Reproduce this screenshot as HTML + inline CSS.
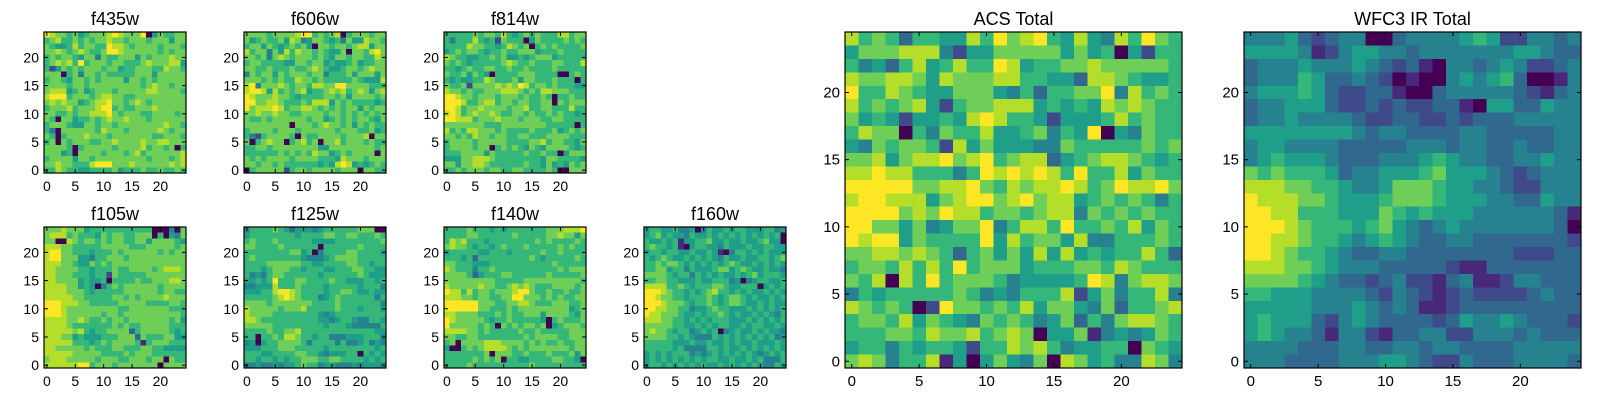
<!DOCTYPE html>
<html><head><meta charset="utf-8"><style>
body{margin:0;background:#fff;width:1600px;height:400px;overflow:hidden}
svg{display:block;font-family:"Liberation Sans",sans-serif}
text{font-weight:normal}
</style></head><body>
<svg id="fig" width="1600" height="400" viewBox="0 0 1600 400" xmlns="http://www.w3.org/2000/svg"></svg>
<script>
// Data: each string is one image row, top (y=24) to bottom (y=0); digits 0-9 = intensity level
const xTicks = [0,5,10,15,20];
const yTicks = [0,5,10,15,20];
const f435w = ["9877675677789877790576677","6786676767787767776777577","7655686776698876777767776","7787678766799877777767677","6767765774766777576777877","6787869677767766678777885","6257676777677566777668776","7770674776766666777577777","6776577676777757767677777","7777677677777777767877677","7888567567776777778877776","8999677767887766777777777","7878775678897767876777777","6777867778996766777877777","7766767788897677766777767","7607756676787787776777777","6777655776776777777778776","6407777776877767777787677","7606777877767777777667776","6707677766778777787788777","7777606777776777786776706","7775607777677767867777778","6777757767777777776777678","7787766689997778777777878","6687665566667566676676676"];
const f606w = ["7777677778996767806777677","7567667587457765647558776","6775765676750776776788577","8677475868776765570776897","7767478767776765776776687","6776666557767756556756677","7766766676678765567767877","4767757677767746667577757","7776767668776766666765558","8947778767768877997777666","8998586767856678786787578","9877787765666677675777767","9977887666768885767666656","9788898677887676767757677","7787787766777767767676767","7667677777767756767677657","7777777707776787767576766","6777767776777777677766756","6426777760766777767778077","7067877067867077867776766","6677677777777557777777767","6666667676768775676777707","7676777767777666587776777","7767767666666565898565676","0677777267767777677707766"];
const f814w = ["6666676776865676766688677","6466686562766605766667676","6666877665687670676766667","5676776566766777566676666","8766556676755656777566666","7676566666787667666776668","6656766776676676666766666","7667576506666777666600676","6565566876667577666766606","7667277778787986776766655","8776766777888767688777666","9987767776777676676066766","9998667886776776677076777","9986778777767786677666866","8986787787667767667676656","9988867778777677766776666","7777777666777777776666606","8676887776766667666756767","7767687767766776667777666","6777767777766667786776657","6777767706767657657777656","6667777576666676676605777","5557788876666666657766665","7757788766666676657565767","6676777677667766667600777"];
const f105w = ["7778777566666666666000407","7888676665767766777060547","7700876776767766775777765","8887766666777776667777767","8997766656667677777767677","8997775546677767777777777","8887765576767777777777777","8877776656667667777678887","8877766656627666667777777","8877775655606666766777887","8888775650467677777767777","8888777656666677777767766","8888877666667767677778777","9998887766666777776666776","9998777777777667777777666","9998777777677677777777776","8888778766767767777777675","8888766666667676677777666","8888878656677773677777656","8887756555666777376667755","8888866656767777616777666","8877777676667766677665555","8888877777666676777666666","7888777776777667776770766","8888889967776777777707777"];
const f125w = ["4666676535554566666677700","5666666665666677667766676","6766676666665555666666667","7766667666666066666676666","6666666677560466667766665","6766666666544456777766666","6666777777665566667766566","6665677766566655666776655","6454677666666566666676555","5565696667766667665556656","4455586667666656666656664","5556689987666656677655655","6666678987666456766666646","7777677777776666766666664","8777776777866666766656665","8777766666666545666666666","8876666666666554566544665","7777766666666656665444446","6666766778666666666666655","6606676887665664445556664","4505667777646666464456454","5556667776666656666666656","6665566667766545556606565","6656656566777667766665656","4454454556766455444545554"];
const f140w = ["6666766656566666667778889","6666776666667666667787757","6878666566666666767666676","7877656656766676666676766","5666665566656666676676666","6665636666666667656666676","7766655566666666666766666","8766646676666666666676777","7777635666776666667666667","7777777776666677777777776","8777778776678787666777767","9886867767778997667667667","8887767766779977767676677","9999997776677887666777667","9999997766676777777777567","8877776667676677757777657","9877777656676666650676667","9777776760767677670567776","8888776766666766766666777","7766776666666676777766777","6707777888777767676676677","5006767888876767777777677","6666666707776676667666757","6666676767066556666776650","6666766666666667666666666"];
const f160w = ["5665564450465565665556645","5675655465565656565656560","6556561556675565565567550","6766561056655465556556655","5665665565565104665656555","6567655656565465565566567","6676776565656567655656565","6677566465556775676556554","7777656646565655656756665","6677665556556664504566556","8888667656667765566605656","9998766565678665656556565","9987766566676567765655656","9998777656676567765565655","9988776645567665556565656","9887776556566765655656546","8887766565656665556565656","7777766556565665565665565","7877656645656045655656554","7777665654446565656565645","6666655565565565655655565","6666656444466565565656565","5656566645456565656545656","5656565656566556556564446","5665656565655656565654465"];
const acsTotal = ["8676366558697896585486976","5777888425577777575605266","6453685686698566778777776","8778875877788665538876556","9668765577754636677948676","8676785267788856565878766","7565255658986652555686766","6877064766855674659054766","5476776285755544766666767","7785788978967883567887656","8898866646989898696685766","9999977889768788986798897","8998885789978978856767646","9999787988677678847676766","9977574577946886966768576","9899576666958677584466676","7788787636757585856566863","6776868696777566677687666","7680869677764555569847887","4656666676454666825746684","8767602977676857754736678","6776857654767645736478876","6667768778678705571454576","5664656652668786455660765","7874668150575470875644874"];
const wfc3Total = ["4445323440034444565224434","5555412455443444444455433","3444544454323104434542234","3444653343201004545630014","4555653223310034444432134","3445553223232233105533544","3445444432233223233344444","5555555543443333443333344","4554444333334443443343344","4565554333444565443344544","7676665344555675554323444","8887766544577765544322444","9888776555677765554433544","9988666555765655544444431","9998766656754345444444430","9988766545654334433333332","9987665433443333333322233","8887765444333332113333333","7777654332342213411244333","6655544443243212322223433","5555544454343112333333333","5655532454333323544543332","5654431442133442244434333","4444333443344344333344444","4443333444554322433344443"];

const panels = [
 {name:"f435w", data:f435w, x:44,  y:32,  w:142, h:141, ty:25, fs:14},
 {name:"f606w", data:f606w, x:244, y:32,  w:142, h:141, ty:25, fs:14},
 {name:"f814w", data:f814w, x:444, y:32,  w:142, h:141, ty:25, fs:14},
 {name:"f105w", data:f105w, x:44,  y:227, w:142, h:141, ty:220, fs:14},
 {name:"f125w", data:f125w, x:244, y:227, w:142, h:141, ty:220, fs:14},
 {name:"f140w", data:f140w, x:444, y:227, w:142, h:141, ty:220, fs:14},
 {name:"f160w", data:f160w, x:644, y:227, w:142, h:141, ty:220, fs:14},
 {name:"ACS Total", data:acsTotal, x:845, y:32, w:337, h:336, ty:25, fs:15},
 {name:"WFC3 IR Total", data:wfc3Total, x:1244, y:32, w:337, h:336, ty:25, fs:15}
];

const VIR = [[68,1,84],[72,40,120],[62,74,137],[49,104,142],[38,130,142],[31,158,137],[53,183,121],[110,206,88],[181,222,43],[253,231,37]];
function viridis(t){t=Math.max(0,Math.min(1,t));const p=t*9,i=Math.min(8,Math.floor(p)),f=p-i;
 const a=VIR[i],b=VIR[i+1];return "rgb("+a.map((v,k)=>Math.round(v+(b[k]-v)*f)).join(",")+")";}

const NS="http://www.w3.org/2000/svg";
const svg=document.getElementById("fig");
function mk(tag,attrs,parent){const e=document.createElementNS(NS,tag);for(const k in attrs)e.setAttribute(k,attrs[k]);(parent||svg).appendChild(e);return e;}

panels.forEach(p=>{
 const slug=p.name.toLowerCase().replace(/\s+/g,'-');
 const g=mk("g",{});
 
 
 const n=25;
 const sx=v=>p.x+(v+0.5)*p.w/n;
 const sy=v=>p.y+p.h-(v+0.5)*p.h/n;
 const cw=p.w/n, ch=p.h/n;
 const bg=mk("rect",{x:p.x,y:p.y,width:p.w,height:p.h,fill:viridis(6/9)},g);
 
 
 const cells=mk("g",{"shape-rendering":"crispEdges"},g);
 
 
 p.data.slice(0,n).forEach((row,ri)=>{
  const yv=n-1-ri;
  row.slice(0,n).split("").forEach((c,ci)=>{
   const r=mk("rect",{x:(sx(ci)-cw/2).toFixed(2),y:(sy(yv)-ch/2).toFixed(2),width:(cw+0.6).toFixed(2),height:(ch+0.6).toFixed(2),fill:viridis(parseInt(c,10)/9)},cells);
   
   
  });
 });
 const fr=mk("rect",{x:p.x,y:p.y,width:p.w,height:p.h,fill:"none",stroke:"#000","stroke-width":1.2},g);
 
 
 xTicks.forEach(t=>{
  const X=sx(t);
  mk("line",{x1:X,x2:X,y1:p.y+p.h,y2:p.y+p.h-4,stroke:"#000"},g);
  mk("line",{x1:X,x2:X,y1:p.y,y2:p.y+4,stroke:"#000"},g);
  const tl=mk("text",{x:X,y:p.y+p.h+18,"text-anchor":"middle","font-size":p.fs,fill:"#000"},g);
  tl.textContent=t;
  
  
 });
 yTicks.forEach(t=>{
  const Y=sy(t);
  mk("line",{x1:p.x,x2:p.x+4,y1:Y,y2:Y,stroke:"#000"},g);
  mk("line",{x1:p.x+p.w,x2:p.x+p.w-4,y1:Y,y2:Y,stroke:"#000"},g);
  const tl=mk("text",{x:p.x-5,y:Y+5,"text-anchor":"end","font-size":p.fs,fill:"#000"},g);
  tl.textContent=t;
  
  
 });
 const tt=mk("text",{x:p.x+p.w/2,y:p.ty,"text-anchor":"middle","font-size":18,"font-weight":"normal",fill:"#000"},g);
 tt.textContent=p.name;
 
 
});
</script>
</body></html>
